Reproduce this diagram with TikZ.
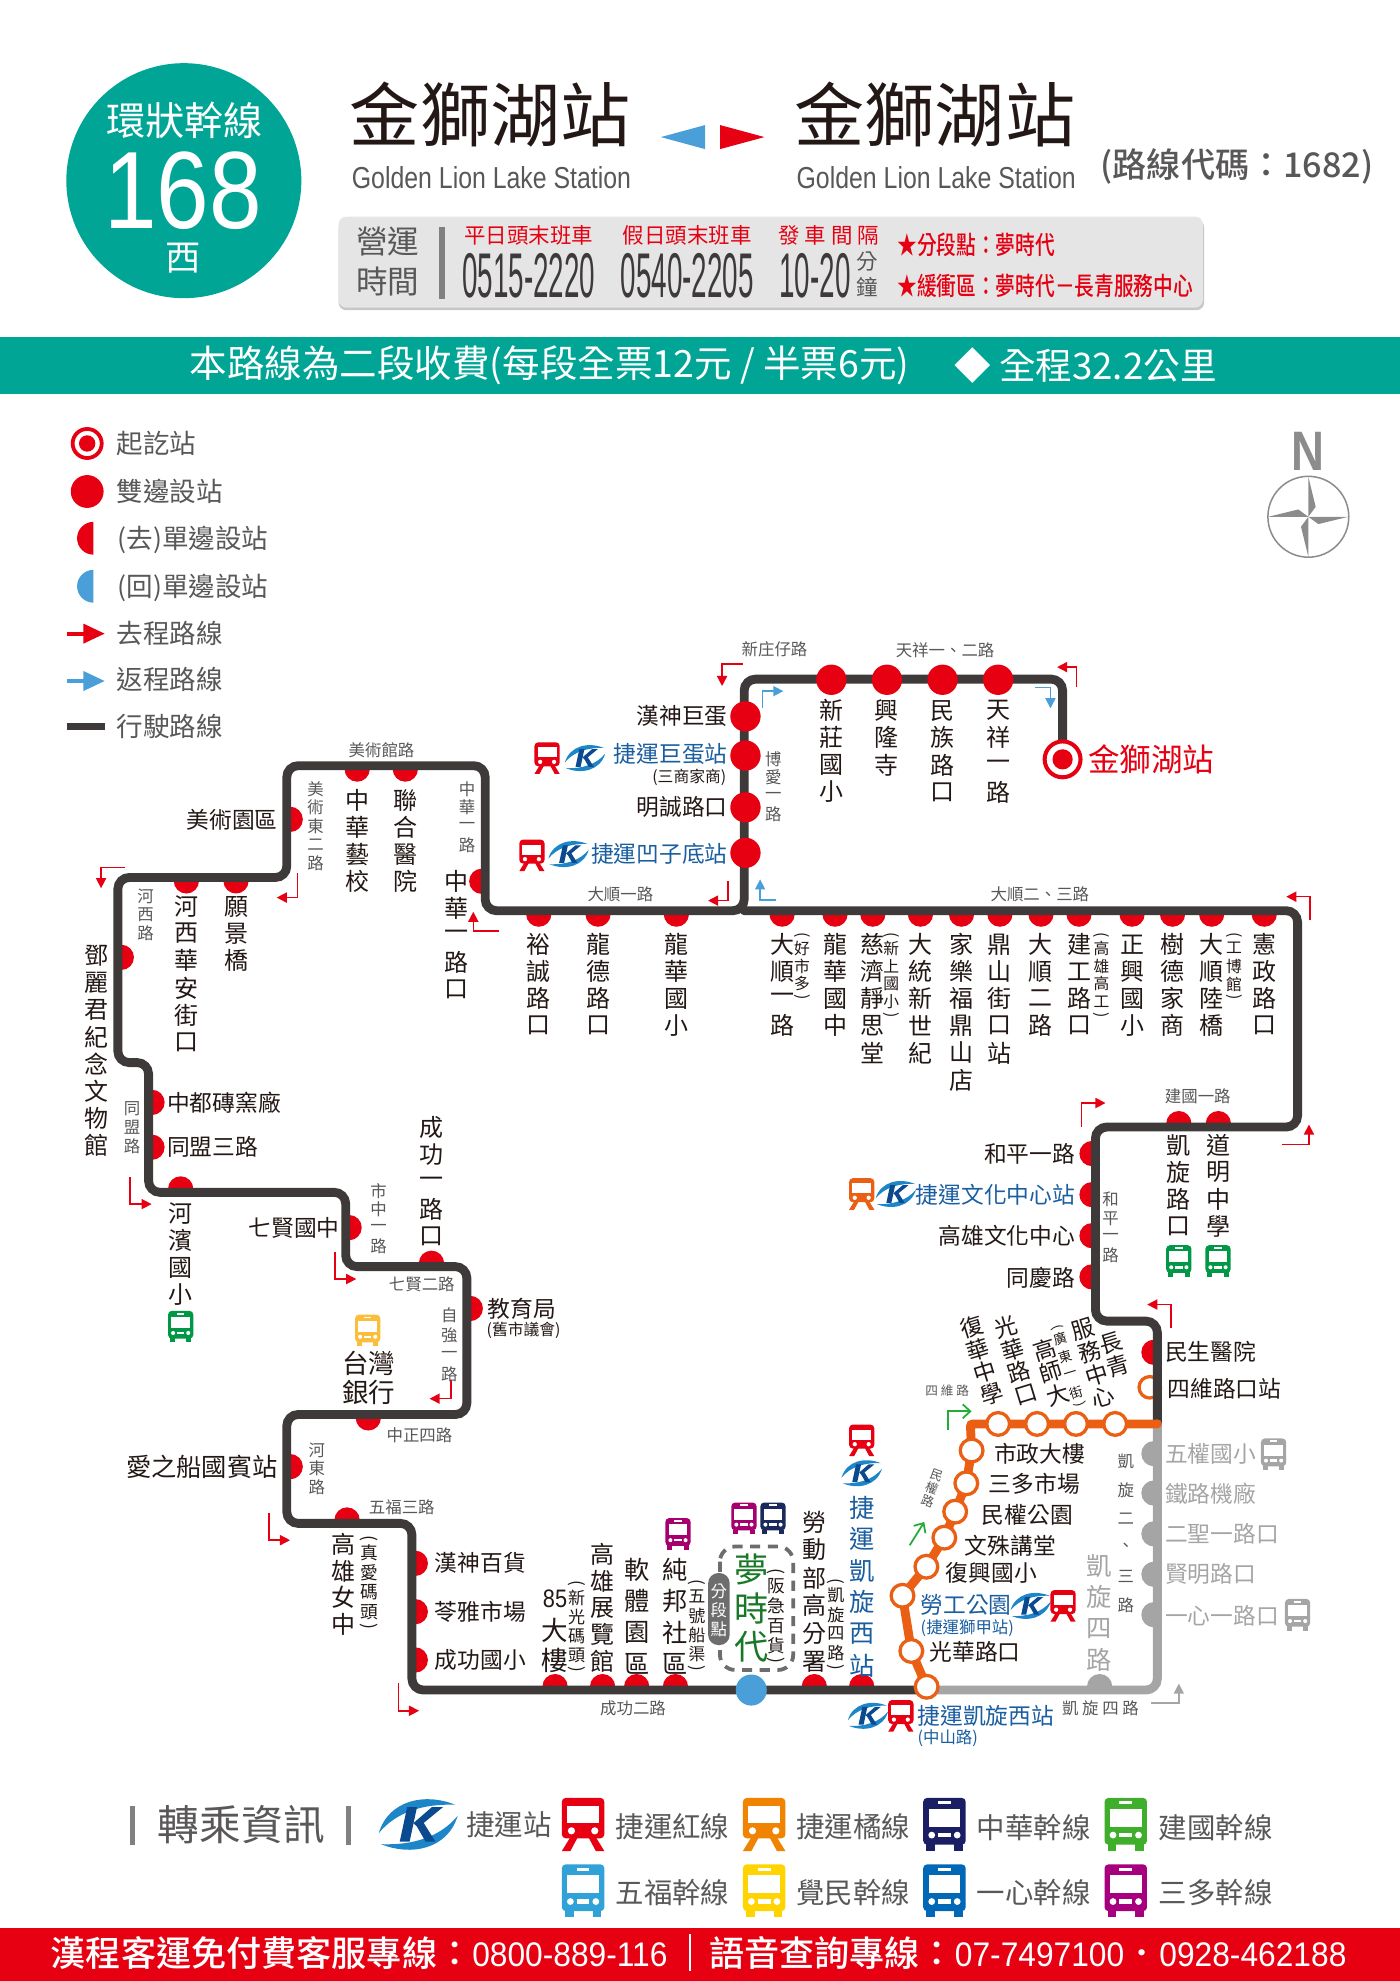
\documentclass[tikz,border=0pt]{standalone}
\usepackage{fontspec}
\setmainfont{Noto Sans CJK TC}
\newfontfamily\latinnarrow[FakeStretch=0.82]{Liberation Sans}
\newfontfamily\numwide[FakeStretch=0.86]{Liberation Sans}
\newfontfamily\numthin[FakeStretch=0.44]{Liberation Sans}
\newfontfamily\numfoot[FakeStretch=0.93]{Liberation Sans}
\newfontfamily\cjkmedium{Noto Sans CJK TC Medium}
\newfontfamily\cjknarrow[FakeStretch=0.78]{Noto Sans CJK TC Medium}
\usetikzlibrary{arrows.meta}

\newcommand{\fsize}[1]{\fontsize{#1}{#1}\selectfont}
%vertical text: one character under the other, brackets lie flat
\newcommand{\stk}[2][1.13]{\vbox{\offinterlineskip\def\stkstep{#1em}\stkgo#2\relax}}
\def\stkgo#1{\ifx#1\relax\else\stkitem{#1}\expandafter\stkgo\fi}
\def\stkitem#1{\ifx#1(\stkflat{#1}\else\ifx#1)\stkflat{#1}\else\hbox to 1em{\hss\vbox to \stkstep{\vss\hbox{#1}\vss}\hss}\fi\fi}
\def\stkflat#1{\hbox to 1em{\hss\vbox to .5em{\vss\hbox{\rotatebox{-90}{#1}}\vss}\hss}}

\begin{document}
\begin{tikzpicture}
		[x=1pt,y=-1pt,line cap=round,
		%Styles
		routeline/.style={line width=7pt,rounded corners=9pt},
		stoplabel/.style={font=\fsize{18},text=inkdark,inner sep=0pt},
		vlabel/.style={anchor=north,yshift=1.5pt,font=\fsize{19},text=inkdark,inner sep=0pt},
		tiltlabel/.style={font=\fsize{18},text=inkdark,inner sep=0pt,rotate=17},
		roadlabel/.style={font=\fsize{13},text=inkgray,inner sep=0pt},
		vroad/.style={anchor=north,font=\fsize{13},text=inkgray,inner sep=0pt},
		note/.style={anchor=north,font=\fsize{12.5},text=inkdark,inner sep=0pt},
		legendlabel/.style={anchor=west,font=\fsize{21},text=inkgray,inner sep=0pt},
		keylabel/.style={anchor=west,font=\fsize{22.5},text=inkgray,inner sep=0pt},
		hdrlabel/.style={font=\fsize{17},text=stopred,inner sep=0pt},
		redturn/.style={stopred,line width=1.2pt,line cap=butt,-{Triangle[length=8pt,width=8pt]}},
		blueturn/.style={backblue,line width=1.2pt,line cap=butt,-{Triangle[length=8pt,width=8pt]}},
		greenturn/.style={linegreen,line width=1.4pt,line cap=butt,-{Straight Barb[length=6pt,width=11pt]}},
		grayturn/.style={stopgray,line width=1.2pt,line cap=butt,-{Triangle[length=8pt,width=8pt]}},
		ringstop/.style={draw=routeorange,fill=white,line width=2.6pt},
		pics/halfstop/.style={code={
			\clip (-13,0) rectangle (13,-14);
			\fill[#1] (0,-2.7) circle (10);
		}},
		pics/busicon/.style={code={
			\fill[#1,rounded corners=3pt] (-10,-12.5) rectangle (10,9.5);
			\fill[#1] (-8.5,9) rectangle (-4.5,12.5);
			\fill[#1] (4.5,9) rectangle (8.5,12.5);
			\fill[white] (-7.5,-7.5) rectangle (7.5,1);
			\fill[white] (-3,-11) rectangle (3,-9.5);
			\fill[white] (-6,5) circle (1.6);
			\fill[white] (6,5) circle (1.6);
			\fill[white] (-3,4) rectangle (3,6);
		}},
		pics/trainicon/.style={code={
			\fill[#1,rounded corners=3pt] (-10,-12.5) rectangle (10,6.5);
			\fill[white] (-7.5,-8.5) rectangle (7.5,-0.5);
			\fill[white] (-5.5,3) circle (1.7);
			\fill[white] (5.5,3) circle (1.7);
			\fill[#1] (-6,6) -- (-2.5,6) -- (-6,12.5) -- (-10,12.5) -- cycle;
			\fill[#1] (6,6) -- (2.5,6) -- (6,12.5) -- (10,12.5) -- cycle;
		}},
		pics/krtlogo/.style={code={
			\fill[krtblue] (-16,3.5) .. controls (-12,-10) and (3,-13) .. (15,-8) .. controls (2,-8.5) and (-9,-5) .. (-16,3.5) -- cycle;
			\fill[krtblue] (16,-3.5) .. controls (12,10) and (-3,13) .. (-15,8) .. controls (-2,8.5) and (9,5) .. (16,-3.5) -- cycle;
			\fill[krtnavy] (-7.5,7) -- (-3.5,7) -- (-0.5,-7) -- (-4.5,-7) -- cycle;
			\fill[krtnavy] (-2,-0.5) -- (5.5,-7) -- (10,-7) -- (0,1.2) -- cycle;
			\fill[krtnavy] (-1,0) -- (3,7) -- (7,7) -- (2,-1) -- cycle;
		}}
		]

		%Colors
		\definecolor{teal}{HTML}{00A596}
		\definecolor{inkdark}{HTML}{231815}
		\definecolor{inkgray}{HTML}{595757}
		\definecolor{stopred}{HTML}{E60012}
		\definecolor{backblue}{HTML}{4A9FD8}
		\definecolor{routedark}{HTML}{3E3A39}
		\definecolor{routeorange}{HTML}{EA5F14}
		\definecolor{stopgray}{HTML}{A5A5A5}
		\definecolor{krtblue}{HTML}{1C86C8}
		\definecolor{krtnavy}{HTML}{0B4A8F}
		\definecolor{linkblue}{HTML}{1A5EA0}
		\definecolor{linegreen}{HTML}{22AC38}
		\definecolor{busgreen}{HTML}{009844}
		\definecolor{busyellow}{HTML}{FABE3C}
		\definecolor{busmagenta}{HTML}{A6006F}
		\definecolor{busnavy}{HTML}{1B2A5C}
		\definecolor{midgray}{HTML}{6D6D6D}
		\definecolor{compassgray}{HTML}{8C8C8C}
		\definecolor{keyorange}{HTML}{F08300}
		\definecolor{keynavy}{HTML}{1A1F63}
		\definecolor{keygreen}{HTML}{3FAE2A}
		\definecolor{keysky}{HTML}{31A2D8}
		\definecolor{keyyellow}{HTML}{FFD400}
		\definecolor{keyblue}{HTML}{0068B7}
		\definecolor{keymagenta}{HTML}{A6007E}

		\useasboundingbox (0,0) rectangle (1108,1567.9);

		%The header
		\fill[teal] (145.5,143) circle (93);
		\node[font=\fsize{31},text=white,inner sep=0pt] (linetype) at (146,95) {環狀幹線};
		\node[font=\numwide\fsize{87},text=white,inner sep=0pt] (lineno) at (145,151) {168};
		\node[font=\fsize{28},text=white,inner sep=0pt] (linesub) at (145,204) {西};
		\node[font=\fsize{55.5},text=inkdark,inner sep=0pt] (titlefrom) at (388,91) {金獅湖站};
		\node[font=\fsize{55.5},text=inkdark,inner sep=0pt] (titleto) at (740,91) {金獅湖站};
		\node[font=\latinnarrow\fsize{24},text=inkgray,inner sep=0pt] (engfrom) at (389,141) {Golden Lion Lake Station};
		\node[font=\latinnarrow\fsize{24},text=inkgray,inner sep=0pt] (engto) at (741,141) {Golden Lion Lake Station};
		\fill[backblue] (523,108.5) -- (558,99) -- (558,118) -- cycle;
		\fill[stopred] (605,108.5) -- (570,99) -- (570,118) -- cycle;
		\node[font=\cjkmedium\fsize{27},text=inkgray,inner sep=0pt] (routecode) at (979,132) {(路線代碼：1682)};

		\fill[black!22,rounded corners=6pt] (268,174) rectangle (953,245.5);
		\fill[black!10,rounded corners=6pt] (268,171.5) rectangle (952,243.5);
		\node[font=\fsize{25},text=inkgray,inner sep=0pt] (hoursa) at (307,191) {營運};
		\node[font=\fsize{25},text=inkgray,inner sep=0pt] (hoursb) at (307,223) {時間};
		\fill[black!50] (347.5,180) rectangle (352.5,237);
		\node[hdrlabel] (hdrweek) at (418.5,186) {平日頭末班車};
		\node[hdrlabel] (hdrhol) at (544,186) {假日頭末班車};
		\node[hdrlabel] (hdrgap) at (656,186) {發 車 間 隔};
		\node[font=\numthin\fsize{50},text=routedark,inner sep=0pt] (timeweek) at (418.5,218) {0515-2220};
		\node[font=\numthin\fsize{50},text=routedark,inner sep=0pt] (timehol) at (544,218) {0540-2205};
		\node[font=\numthin\fsize{50},text=routedark,inner sep=0pt] (timegap) at (645,218) {10-20};
		\node[anchor=north,font=\fsize{17},text=inkgray,inner sep=0pt] (minutes) at (686,197) {\stk[1.17]{分鐘}};
		\node[anchor=west,font=\cjknarrow\fsize{20},text=stopred,inner sep=0pt] (noteseg) at (710,194) {★分段點：夢時代};
		\node[anchor=west,font=\cjknarrow\fsize{20},text=stopred,inner sep=0pt] (notebuf) at (710,226) {★緩衝區：夢時代－長青服務中心};

		\fill[teal] (0,267) rectangle (1108,312);
		\node[anchor=west,font=\fsize{29.7},text=white,inner sep=0pt] (farenote) at (150,289) {本路線為二段收費(每段全票12元 / 半票6元)};
		\node[anchor=west,font=\fsize{29},text=white,inner sep=0pt] (lengthnote) at (755,289) {◆ 全程32.2公里};

		%The legend
		\draw[stopred,fill=white,line width=3pt] (69,351) circle (11.5);
		\fill[stopred] (69,351) circle (6.5);
		\node[legendlabel] (legterm) at (92,351) {起訖站};
		\fill[stopred] (69,389) circle (13);
		\node[legendlabel] (legboth) at (92,389) {雙邊設站};
		\fill[stopred] (74,413) arc (270:90:13) -- cycle;
		\node[legendlabel] (legout) at (93,427) {(去)單邊設站};
		\fill[backblue] (74,451) arc (270:90:13) -- cycle;
		\node[legendlabel] (legback) at (93,465) {(回)單邊設站};
		\draw[stopred,line width=3pt,line cap=butt,-{Triangle[length=17pt,width=15pt]}] (53,501.5) -- (83,501.5);
		\node[legendlabel] (legoutline) at (92,501) {去程路線};
		\draw[backblue,line width=3pt,line cap=butt,-{Triangle[length=17pt,width=15pt]}] (53,539) -- (83,539);
		\node[legendlabel] (legbackline) at (92,538) {返程路線};
		\draw[routedark,line width=6pt,line cap=butt] (53,575) -- (83,575);
		\node[legendlabel] (legroute) at (92,575) {行駛路線};

		%The compass
		\node[font=\latinnarrow\bfseries\fsize{44},text=compassgray,inner sep=0pt] (north) at (1035,357.5) {N};
		\draw[compassgray,line width=1.2pt] (1035.5,409) circle (32);
		\fill[compassgray] (1035.5,377.3) -- (1041.3,401.1) -- (1035.5,409) -- cycle;
		\fill[compassgray] (1067.2,409) -- (1043.4,414.8) -- (1035.5,409) -- cycle;
		\fill[compassgray] (1035.5,440.7) -- (1029.7,416.9) -- (1035.5,409) -- cycle;
		\fill[compassgray] (1003.8,409) -- (1027.6,403.2) -- (1035.5,409) -- cycle;

		%Half stops, under the route
		\pic[rotate=180] at (282.7,606) {halfstop=stopred};
		\pic[rotate=180] at (320.8,606) {halfstop=stopred};
		\pic[rotate=-90] at (227,648.5) {halfstop=stopred};
		\pic[rotate=90] at (384,697.5) {halfstop=stopred};
		\pic[rotate=180] at (147.5,694.5) {halfstop=stopred};
		\pic[rotate=180] at (186.8,694.5) {halfstop=stopred};
		\pic[rotate=-90] at (93.3,757.7) {halfstop=stopred};
		\pic[rotate=-90] at (117.6,872.5) {halfstop=stopred};
		\pic[rotate=-90] at (117.6,908) {halfstop=stopred};
		\pic at (143,943.7) {halfstop=stopred};
		\pic[rotate=-90] at (273.6,971.6) {halfstop=stopred};
		\pic at (341.5,1002.5) {halfstop=stopred};
		\pic[rotate=-90] at (369.5,1035.6) {halfstop=stopred};
		\pic[rotate=180] at (291.5,1119.5) {halfstop=stopred};
		\pic[rotate=-90] at (227,1160.8) {halfstop=stopred};
		\pic at (274.7,1205.7) {halfstop=stopred};
		\pic[rotate=-90] at (326,1237.3) {halfstop=stopred};
		\pic[rotate=-90] at (326,1275.6) {halfstop=stopred};
		\pic[rotate=-90] at (326,1313.8) {halfstop=stopred};
		\pic at (439.3,1337.6) {halfstop=stopred};
		\pic at (476.9,1337.6) {halfstop=stopred};
		\pic at (503.9,1337.6) {halfstop=stopred};
		\pic at (534.6,1337.6) {halfstop=stopred};
		\pic at (644.5,1337.6) {halfstop=stopred};
		\pic at (682,1337.6) {halfstop=stopred};
		\pic[rotate=180] at (426.4,720.8) {halfstop=stopred};
		\pic[rotate=180] at (473.3,720.8) {halfstop=stopred};
		\pic[rotate=180] at (535.3,720.8) {halfstop=stopred};
		\pic[rotate=180] at (619,720.8) {halfstop=stopred};
		\pic[rotate=180] at (660.9,720.8) {halfstop=stopred};
		\pic[rotate=180] at (690.8,720.8) {halfstop=stopred};
		\pic[rotate=180] at (728.5,720.8) {halfstop=stopred};
		\pic[rotate=180] at (761,720.8) {halfstop=stopred};
		\pic[rotate=180] at (791.4,720.8) {halfstop=stopred};
		\pic[rotate=180] at (823.9,720.8) {halfstop=stopred};
		\pic[rotate=180] at (854,720.8) {halfstop=stopred};
		\pic[rotate=180] at (896,720.8) {halfstop=stopred};
		\pic[rotate=180] at (928,720.8) {halfstop=stopred};
		\pic[rotate=180] at (959,720.8) {halfstop=stopred};
		\pic[rotate=180] at (1000.6,720.8) {halfstop=stopred};
		\pic at (933,892) {halfstop=stopred};
		\pic at (964.3,892) {halfstop=stopred};
		\pic[rotate=90] at (867,913) {halfstop=stopred};
		\pic[rotate=90] at (867,945.5) {halfstop=stopred};
		\pic[rotate=90] at (867,978) {halfstop=stopred};
		\pic[rotate=90] at (867,1010.6) {halfstop=stopred};
		\pic[rotate=90] at (916,1070.3) {halfstop=stopred};
		\draw[routeorange,fill=white,line width=2.6pt] (910,1098) circle (8.5);
		\pic[rotate=90] at (916,1150.5) {halfstop=stopgray};
		\pic[rotate=90] at (916,1181.7) {halfstop=stopgray};
		\pic[rotate=90] at (916,1214) {halfstop=stopgray};
		\pic[rotate=90] at (916,1246) {halfstop=stopgray};
		\pic[rotate=90] at (916,1278) {halfstop=stopgray};
		\pic at (870.3,1337.6) {halfstop=stopgray};

		%The route
		\draw[routedark,routeline] (841,601) -- (841,537.5) -- (589,537.5) -- (589,720.8) -- (384,720.8) -- (384,606) -- (227,606) -- (227,694.5) -- (93.3,694.5) -- (93.3,841) -- (117.6,841) -- (117.6,943.7) -- (273.6,943.7) -- (273.6,1002.5) -- (369.5,1002.5) -- (369.5,1119.5) -- (227,1119.5) -- (227,1205.7) -- (326,1205.7) -- (326,1337.6) -- (733.4,1337.6);
		\draw[routedark,routeline] (589,720.8) -- (1027,720.8) -- (1027,892) -- (867,892) -- (867,1045.6) -- (916,1045.6) -- (916,1127);
		\draw[stopgray,routeline] (733.4,1337.6) -- (916,1337.6) -- (916,1127);
		\draw[routeorange,line width=7pt,rounded corners=2pt] (916,1127) -- (768,1127) -- (769,1148) -- (764.8,1174) -- (756,1196.4) -- (747.4,1217) -- (733.2,1240) -- (714.3,1263) -- (721.3,1306.7) -- (733.4,1335);

		%Full stops, over the route
		\draw[stopred,fill=white,line width=3.2pt] (841,601) circle (14.2);
		\fill[stopred] (841,601) circle (8);
		\fill[stopred] (658,538) circle (12);
		\fill[stopred] (702,538) circle (12);
		\fill[stopred] (746,538) circle (12);
		\fill[stopred] (790,538) circle (12);
		\fill[stopred] (590,567) circle (12);
		\fill[stopred] (590,598) circle (12);
		\fill[stopred] (590,639) circle (12);
		\fill[stopred] (590,675) circle (12);
		\fill[backblue] (594.6,1337.6) circle (12.3);
		\draw[ringstop] (790,1127) circle (9);
		\draw[ringstop] (820.8,1127) circle (9);
		\draw[ringstop] (851.6,1127) circle (9);
		\draw[ringstop] (882.6,1127) circle (9);
		\draw[ringstop] (769,1148) circle (9);
		\draw[ringstop] (764.8,1174) circle (9);
		\draw[ringstop] (756,1196.4) circle (9);
		\draw[ringstop] (747.4,1217) circle (9);
		\draw[ringstop] (733.2,1240) circle (9);
		\draw[ringstop] (714.3,1263) circle (9);
		\draw[ringstop] (721.3,1306.7) circle (9);
		\draw[ringstop] (733.4,1335) circle (9);

		%Direction arrows
		\draw[redturn] (588,525.7) -- (571.5,525.7) -- (571.5,543);
		\draw[redturn] (852,544) -- (852,528) -- (836.6,528);
		\draw[blueturn] (603.5,560) -- (603.5,547) -- (620,547);
		\draw[blueturn] (819,544) -- (831.4,544) -- (831.4,560.6);
		\draw[redturn] (576,697.3) -- (576,712.8) -- (560.4,712.8);
		\draw[blueturn] (614,712.4) -- (601.6,712.4) -- (601.6,696);
		\draw[redturn] (1036.8,728) -- (1036.8,709.7) -- (1018,709.7);
		\draw[redturn] (99,686.7) -- (80,686.7) -- (80,703);
		\draw[redturn] (235.5,691) -- (235.5,710.4) -- (219,710.4);
		\draw[redturn] (394.6,737) -- (374.6,737) -- (374.6,721.6);
		\draw[redturn] (103,931.7) -- (103,953) -- (120,953);
		\draw[redturn] (265,990.7) -- (265,1012.3) -- (282,1012.3);
		\draw[redturn] (357,1092) -- (357,1107) -- (340,1107);
		\draw[redturn] (213,1197.7) -- (213,1219) -- (229.6,1219);
		\draw[redturn] (315.4,1332.2) -- (315.4,1354) -- (331.7,1354);
		\draw[redturn] (856,892) -- (856,873) -- (875,873);
		\draw[redturn] (1014.6,906) -- (1036,906) -- (1036,890);
		\draw[redturn] (927,1051) -- (927,1032.5) -- (908,1032.5);
		\draw[greenturn] (750,1132) -- (750,1117) -- (769,1117);
		\draw[greenturn] (720,1223) -- (731.5,1204.6);
		\draw[grayturn] (911,1348) -- (933,1348) -- (933,1332.5);

		%Road names
		\node[roadlabel] (rdxinzhuang) at (613,514) {新庄仔路};
		\node[roadlabel] (rdtianxiang) at (748,515) {天祥一、二路};
		\node[roadlabel] (rdmeishu) at (302,594) {美術館路};
		\node[roadlabel] (rddashun) at (491,708) {大順一路};
		\node[roadlabel] (rddashuntwo) at (823,708) {大順二、三路};
		\node[roadlabel] (rdjianguo) at (948,868) {建國一路};
		\node[roadlabel] (rdqixian) at (333.8,1016.5) {七賢二路};
		\node[roadlabel] (rdzhongzheng) at (332,1136) {中正四路};
		\node[roadlabel] (rdwufu) at (318,1193) {五福三路};
		\node[roadlabel] (rdchenggong) at (501,1352) {成功二路};
		\node[roadlabel] (rdkaixuan) at (871,1352) {凱 旋 四 路};
		\node[roadlabel,font=\fsize{10}] (rdsiwei) at (749.6,1101) {四 維 路};
		\node[roadlabel,rotate=-20,font=\fsize{10}] (rdminquan) at (738,1178) {\stk[1.1]{民權路}};
		\node[vroad] (rdboai) at (612,593) {\stk{博愛一路}};
		\node[vroad] (rdmeishudong) at (249.8,617) {\stk{美術東二路}};
		\node[vroad] (rdzhonghua) at (369.6,617) {\stk{中華一路}};
		\node[vroad] (rdhexi) at (115.3,702) {\stk{河西路}};
		\node[vroad] (rdtongmeng) at (104.6,870) {\stk{同盟路}};
		\node[vroad] (rdshizhong) at (299.6,935) {\stk{市中一路}};
		\node[vroad] (rdziqiang) at (355.6,1033) {\stk[1.2]{自強一路}};
		\node[vroad] (rdhedong) at (250.7,1140) {\stk{河東路}};
		\node[vroad] (rdheping) at (879,942) {\stk{和平一路}};
		\node[vroad] (rdkaixuanb) at (891,1145) {\stk[1.75]{凱旋二、三路}};

		%Stops along the top
		\node[vlabel] (xinzhuang) at (658,553) {\stk{新莊國小}};
		\node[vlabel] (xinglong) at (702,553) {\stk{興隆寺}};
		\node[vlabel] (minzu) at (746,553) {\stk{民族路口}};
		\node[vlabel] (tianxiang) at (790,553) {\stk{天祥一路}};
		\node[anchor=west,font=\fsize{25},text=stopred,inner sep=0pt] (terminus) at (861,601) {金獅湖站};
		\node[stoplabel,anchor=east] (hanshen) at (576,567) {漢神巨蛋};
		\node[stoplabel,anchor=east,text=linkblue] (mrtjudan) at (576,597) {捷運巨蛋站};
		\node[anchor=east,font=\fsize{12.5},text=inkdark,inner sep=0pt] (sanshang) at (575,615) {(三商家商)};
		\node[stoplabel,anchor=east] (mingcheng) at (576,639) {明誠路口};
		\node[stoplabel,anchor=east,text=linkblue] (mrtaozi) at (576,676) {捷運凹子底站};
		\pic at (433,600) {trainicon=stopred};
		\pic at (463,600) {krtlogo};
		\pic at (421,677) {trainicon=stopred};
		\pic at (450,676) {krtlogo};

		%Stops below the long road
		\node[vlabel] (yucheng) at (426.4,738) {\stk{裕誠路口}};
		\node[vlabel] (longde) at (473.3,738) {\stk{龍德路口}};
		\node[vlabel] (longhua) at (535.3,738) {\stk{龍華國小}};
		\node[vlabel] (dashuna) at (619,738) {\stk{大順一路}};
		\node[note] (costco) at (634.8,737) {\stk{(好市多)}};
		\node[vlabel] (longhuaz) at (660.9,738) {\stk{龍華國中}};
		\node[vlabel] (ciji) at (690.8,738) {\stk{慈濟靜思堂}};
		\node[note] (xinshang) at (705.5,737) {\stk{(新上國小)}};
		\node[vlabel] (datong) at (728.5,738) {\stk{大統新世紀}};
		\node[vlabel] (carrefour) at (761,738) {\stk{家樂福鼎山店}};
		\node[vlabel] (dingshan) at (791.4,738) {\stk{鼎山街口站}};
		\node[vlabel] (dashunb) at (823.9,738) {\stk{大順二路}};
		\node[vlabel] (jiangong) at (854,738) {\stk{建工路口}};
		\node[note] (gaogong) at (871.8,737) {\stk{(高雄高工)}};
		\node[vlabel] (zhengxing) at (896,738) {\stk{正興國小}};
		\node[vlabel] (shude) at (928,738) {\stk{樹德家商}};
		\node[vlabel] (dashunc) at (959,738) {\stk{大順陸橋}};
		\node[note] (gongbo) at (976.6,737) {\stk{(工博館)}};
		\node[vlabel] (xianzheng) at (1000.6,738) {\stk{憲政路口}};

		%Stops on the west side
		\node[vlabel] (zhonghuayi) at (282.7,624) {\stk{中華藝校}};
		\node[vlabel] (lianhe) at (320.8,624) {\stk{聯合醫院}};
		\node[stoplabel,anchor=east] (meishuyuan) at (220,649) {美術園區};
		\node[vlabel] (zhonghuakou) at (361.3,688) {\stk{中華一路口}};
		\node[vlabel] (hexihua) at (147.5,708) {\stk{河西華安街口}};
		\node[vlabel] (yuanjing) at (186.8,708) {\stk{願景橋}};
		\node[vlabel] (teresa) at (76.6,747) {\stk{鄧麗君紀念文物館}};
		\node[stoplabel,anchor=west] (zhongdu) at (132,872.5) {中都磚窯廠};
		\node[stoplabel,anchor=west] (tongmeng) at (132,908) {同盟三路};
		\node[vlabel] (hebin) at (143,951) {\stk{河濱國小}};
		\pic at (143,1050) {busicon=busgreen};
		\node[stoplabel,anchor=east] (qixian) at (269,971.6) {七賢國中};
		\node[vlabel] (chenggong) at (341.5,883) {\stk{成功一路口}};
		\node[stoplabel,anchor=west] (jiaoyu) at (386,1036) {教育局};
		\node[anchor=west,font=\fsize{12.5},text=inkdark,inner sep=0pt] (shiyihui) at (385,1053) {(舊市議會)};
		\pic at (291,1053) {busicon=busyellow};
		\node[font=\fsize{21},text=inkdark,inner sep=0pt] (taiwan) at (292,1079) {台灣};
		\node[font=\fsize{21},text=inkdark,inner sep=0pt] (bank) at (292,1102) {銀行};
		\node[anchor=east,font=\fsize{20},text=inkdark,inner sep=0pt] (loveboat) at (220,1161) {愛之船國賓站};
		\node[vlabel] (gaonv) at (272.2,1213) {\stk[1.11]{高雄女中}};
		\node[note,font=\fsize{14}] (zhenai) at (292,1213.7) {\stk{(真愛碼頭)}};
		\node[stoplabel,anchor=west] (hanshenb) at (344,1237.3) {漢神百貨};
		\node[stoplabel,anchor=west] (lingya) at (344,1275.6) {苓雅市場};
		\node[stoplabel,anchor=west] (chenggongxiao) at (344,1313.8) {成功國小};

		%Stops on Chenggong 2nd road
		\node[font=\numwide\fsize{20},text=inkdark,inner sep=0pt] (eightyfive) at (439.3,1265) {85};
		\node[vlabel,font=\fsize{21}] (dalou) at (439.3,1280) {\stk{大樓}};
		\node[note,font=\fsize{13.5}] (xinguang) at (456.3,1250) {\stk{(新光碼頭)}};
		\node[vlabel] (zhanlan) at (476.9,1221) {\stk[1.11]{高雄展覽館}};
		\node[vlabel,font=\fsize{20}] (ruanti) at (503.9,1231) {\stk[1.25]{軟體園區}};
		\node[vlabel,font=\fsize{20}] (chunbang) at (534.6,1231) {\stk[1.25]{純邦社區}};
		\node[note,font=\fsize{13.5}] (chuanqu) at (551.6,1249) {\stk{(五號船渠)}};
		\pic at (536.6,1214) {busicon=busmagenta};
		\pic at (588.8,1201.7) {busicon=busmagenta};
		\pic at (611.8,1201.7) {busicon=busnavy};
		\draw[midgray,line width=3pt,rounded corners=12pt,dash pattern=on 8pt off 6pt,line cap=butt] (569.8,1224) rectangle (627.8,1321.7);
		\fill[midgray,rounded corners=8pt] (560.5,1245) rectangle (577.5,1302);
		\node[anchor=north,font=\fsize{13},text=white,inner sep=0pt] (fenduan) at (569,1252) {\stk[1.15]{分段點}};
		\node[anchor=north,font=\fsize{27},text=linegreen!70!black,inner sep=0pt] (mengshidai) at (594.8,1227) {\stk{夢時代}};
		\node[note,font=\fsize{14}] (hankyu) at (614.2,1240) {\stk{(阪急百貨)}};
		\node[vlabel] (laodong) at (644.5,1195) {\stk[1.16]{勞動部高分署}};
		\node[note,font=\fsize{13.5}] (kaixuansi) at (661.6,1248) {\stk{(凱旋四路)}};
		\node[vlabel,font=\fsize{20},text=linkblue] (mrtkaixuan) at (682,1182) {\stk[1.25]{捷運凱旋西站}};
		\pic at (682,1166) {krtlogo};
		\pic at (682,1140) {trainicon=stopred};

		%Stops on the orange road
		\node[stoplabel,anchor=west] (shizheng) at (786.7,1150.5) {市政大樓};
		\node[stoplabel,anchor=west] (sanduo) at (782.5,1174.6) {三多市場};
		\node[stoplabel,anchor=west] (minquan) at (777,1199) {民權公園};
		\node[stoplabel,anchor=west] (wenshu) at (763.4,1223.3) {文殊講堂};
		\node[stoplabel,anchor=west] (fuxing) at (748.5,1244.5) {復興國小};
		\node[stoplabel,anchor=west,text=linkblue] (laogong) at (728.5,1270.5) {勞工公園};
		\node[anchor=west,font=\fsize{13},text=linkblue,inner sep=0pt] (shijia) at (728.5,1288.4) {(捷運獅甲站)};
		\pic at (815.7,1271) {krtlogo};
		\pic at (841.4,1271) {trainicon=stopred};
		\node[stoplabel,anchor=west] (guanghua) at (735.6,1307.6) {光華路口};
		\node[stoplabel,anchor=west,text=linkblue] (mrtkaixuanb) at (726,1358) {捷運凱旋西站};
		\node[anchor=west,font=\fsize{13},text=linkblue,inner sep=0pt] (zhongshan) at (726,1376) {(中山路)};
		\pic at (687,1358) {krtlogo};
		\pic at (713,1358) {trainicon=stopred};
		\node[tiltlabel] (fuhua) at (777,1077) {\stk[1.03]{復華中學}};
		\node[tiltlabel] (guanghuab) at (804,1077) {\stk[1.03]{光華路口}};
		\node[tiltlabel] (gaoshi) at (832,1086) {\stk[1.03]{高師大}};
		\node[tiltlabel,font=\fsize{10.5}] (guangdong) at (845.7,1081) {\stk[1.4]{(廣東一街)}};
		\node[tiltlabel] (fuwu) at (865,1079) {\stk[1.03]{服務中心}};
		\node[tiltlabel] (changqing) at (882,1072) {\stk[1.03]{長青}};

		%Stops on the east side
		\node[stoplabel,anchor=east] (hepinga) at (851,913) {和平一路};
		\node[stoplabel,anchor=east,text=linkblue] (mrtwenhua) at (851,945.5) {捷運文化中心站};
		\node[stoplabel,anchor=east] (wenhua) at (851,978) {高雄文化中心};
		\node[stoplabel,anchor=east] (tongqing) at (851,1011) {同慶路};
		\pic at (682,945) {trainicon=routeorange};
		\pic at (709,945) {krtlogo};
		\node[vlabel] (kaixuankou) at (933,897) {\stk{凱旋路口}};
		\node[vlabel] (daoming) at (964,897) {\stk{道明中學}};
		\pic at (933,998) {busicon=busgreen};
		\pic at (964,998) {busicon=busgreen};
		\node[stoplabel,anchor=west] (minsheng) at (922,1070.3) {民生醫院};
		\node[stoplabel,anchor=west] (siwei) at (924,1099) {四維路口站};
		\node[stoplabel,anchor=west,text=stopgray] (wuquan) at (922,1150.5) {五權國小};
		\pic at (1008,1151) {busicon=stopgray};
		\node[stoplabel,anchor=west,text=stopgray] (tielu) at (922,1182) {鐵路機廠};
		\node[stoplabel,anchor=west,text=stopgray] (ersheng) at (922,1214) {二聖一路口};
		\node[stoplabel,anchor=west,text=stopgray] (xianming) at (922,1246) {賢明路口};
		\node[stoplabel,anchor=west,text=stopgray] (yixin) at (922,1279) {一心一路口};
		\pic at (1027,1278) {busicon=stopgray};
		\node[vlabel,font=\fsize{20},text=stopgray] (kaixuanfour) at (870,1228) {\stk[1.24]{凱旋四路}};

		%Transfer information
		\fill[black!50] (103,1429) rectangle (107,1460);
		\node[font=\fsize{33},text=inkgray,inner sep=0pt] (transfer) at (191,1444) {轉乘資訊};
		\fill[black!50] (274,1429) rectangle (278,1460);
		\pic[scale=1.95] at (331,1444) {krtlogo};
		\node[keylabel] (keymrt) at (369,1444) {捷運站};
		\pic[scale=1.68] at (461.5,1444) {trainicon=stopred};
		\node[keylabel] (keyredline) at (487,1446) {捷運紅線};
		\pic[scale=1.68] at (604.8,1444) {trainicon=keyorange};
		\node[keylabel] (keyorangeline) at (630,1446) {捷運橘線};
		\pic[scale=1.68] at (747.5,1444) {busicon=keynavy};
		\node[keylabel] (keyzhonghua) at (773,1446) {中華幹線};
		\pic[scale=1.68] at (891,1444) {busicon=keygreen};
		\node[keylabel] (keyjianguo) at (917,1446) {建國幹線};
		\pic[scale=1.68] at (461.5,1496.6) {busicon=keysky};
		\node[keylabel] (keywufu) at (487,1498) {五福幹線};
		\pic[scale=1.68] at (604.8,1496.6) {busicon=keyyellow};
		\node[keylabel] (keyjuemin) at (630,1498) {覺民幹線};
		\pic[scale=1.68] at (747.5,1496.6) {busicon=keyblue};
		\node[keylabel] (keyyixin) at (773,1498) {一心幹線};
		\pic[scale=1.68] at (891,1496.6) {busicon=keymagenta};
		\node[keylabel] (keysanduo) at (917,1498) {三多幹線};

		%The footer
		\fill[stopred] (0,1526) rectangle (1108,1568);
		\node[anchor=west,font=\cjkmedium\fsize{27.8},text=white,inner sep=0pt] (hotline) at (40,1546) {漢程客運免付費客服專線：{\numfoot\fsize{27}0800-889-116}};
		\draw[white,line width=2pt,line cap=butt] (546,1531) -- (546,1560);
		\node[anchor=west,font=\cjkmedium\fsize{27.8},text=white,inner sep=0pt] (voiceline) at (561,1546) {語音查詢專線：{\numfoot\fsize{27}07-7497100}．{\numfoot\fsize{27}0928-462188}};
	\end{tikzpicture}
\end{document}
